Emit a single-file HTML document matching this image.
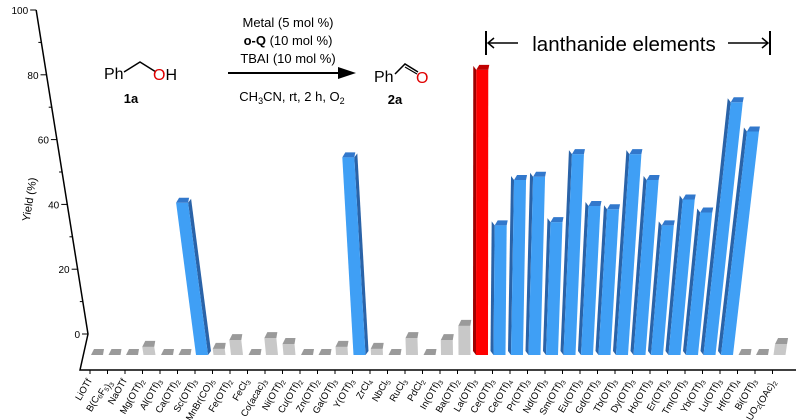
<!DOCTYPE html>
<html><head><meta charset="utf-8"><style>
body{margin:0;background:#fff;}
svg{display:block;font-family:"Liberation Sans",Arial,sans-serif;}
</style></head><body>
<svg id="chart" width="803" height="420" viewBox="0 0 803 420" xmlns="http://www.w3.org/2000/svg">
<g id="scheme">
  <text x="104" y="79" font-size="16">Ph</text>
  <polyline points="124,72 140,62 156,72" fill="none" stroke="#000" stroke-width="1.5"/>
  <text x="153" y="80" font-size="16"><tspan fill="#e00000">O</tspan>H</text>
  <text x="131" y="103" font-size="13" font-weight="bold" text-anchor="middle">1a</text>
  <text x="288" y="27" font-size="13" text-anchor="middle">Metal (5 mol %)</text>
  <text x="288" y="45" font-size="13" text-anchor="middle"><tspan font-weight="bold">o-Q</tspan> (10 mol %)</text>
  <text x="288" y="63" font-size="13" text-anchor="middle">TBAI (10 mol %)</text>
  <line x1="228" y1="73" x2="340" y2="73" stroke="#000" stroke-width="2"/>
  <polygon points="338,67 356,73 338,79" fill="#000"/>
  <text x="292" y="101" font-size="13" text-anchor="middle">CH<tspan font-size="9" dy="3">3</tspan><tspan dy="-3">CN, rt, 2 h, O</tspan><tspan font-size="9" dy="3">2</tspan></text>
  <text x="374" y="82" font-size="16">Ph</text>
  <polyline points="395,74 405,64 418,72" fill="none" stroke="#000" stroke-width="1.5"/>
  <line x1="405" y1="67" x2="417" y2="74" stroke="#000" stroke-width="1.2"/>
  <text x="416" y="83" font-size="16" fill="#e00000">O</text>
  <text x="395" y="104" font-size="13" font-weight="bold" text-anchor="middle">2a</text>
</g>
<g>
  <line x1="486" y1="31" x2="486" y2="55" stroke="#000" stroke-width="2"/>
  <line x1="770" y1="31" x2="770" y2="55" stroke="#000" stroke-width="2"/>
  <line x1="488" y1="43" x2="518" y2="43" stroke="#000" stroke-width="1.5"/>
  <polyline points="494,38 488,43 494,48" fill="none" stroke="#000" stroke-width="1.5"/>
  <line x1="728" y1="43" x2="768" y2="43" stroke="#000" stroke-width="1.5"/>
  <polyline points="762,38 768,43 762,48" fill="none" stroke="#000" stroke-width="1.5"/>
  <text x="624" y="51" font-size="20.5" text-anchor="middle">lanthanide elements</text>
</g>
<g id="axes"></g>
<g id="bars"></g>
<g id="xlabels"></g>
</svg>
<script>
const categories = ["LiOTf","B(C6F5)3","NaOTf","Mg(OTf)2","Al(OTf)3","Ca(OTf)2","Sc(OTf)3","MnBr(CO)5","Fe(OTf)2","FeCl3","Co(acac)3","Ni(OTf)2","Cu(OTf)2","Zn(OTf)2","Ga(OTf)3","Y(OTf)3","ZrCl4","NbCl5","RuCl3","PdCl2","In(OTf)3","Ba(OTf)2","La(OTf)3","Ce(OTf)3","Ce(OTf)4","Pr(OTf)3","Nd(OTf)3","Sm(OTf)3","Eu(OTf)3","Gd(OTf)3","Tb(OTf)3","Dy(OTf)3","Ho(OTf)3","Er(OTf)3","Tm(OTf)3","Yb(OTf)3","Lu(OTf)3","Hf(OTf)4","Bi(OTf)3","UO2(OAc)2"];
const yields = [0,0,0,2.5,0,0,47,1.9,4.6,0,5.2,3.4,0,0,2.5,61,1.9,0,5.2,0,4.6,9,88,40,54,55,41,62,46,45,62,54,40,48,44,78,69,0,0,3.4];
const colorGroup = ["g","g","g","g","g","g","b","g","g","g","g","g","g","g","g","b","g","g","g","g","g","g","r","b","b","b","b","b","b","b","b","b","b","b","b","b","b","g","g","g"];
const yTicks = [0,20,40,60,80,100];

const NS="http://www.w3.org/2000/svg";
const PX=3.24, BASE=355, X0=97, DX=17.5, W=12, VP=480, K=0.00047;
function xC(i){return X0+i*DX;}
function hOf(v){return v*PX;}
function axisY(v){return 334-v*PX;}
function axisX(v){return 88-(v*PX)*0.16;}
function mk(tag,attrs,parent){const e=document.createElementNS(NS,tag);for(const k in attrs)e.setAttribute(k,attrs[k]);parent.appendChild(e);return e;}

const axes=document.getElementById('axes');
const yAxis=mk('polyline',{points:`${axisX(100)},${axisY(100)} ${axisX(0)},${axisY(0)} 80,370 796,370`,fill:'none',stroke:'#000','stroke-width':1.5},axes);


for(let v=0;v<=100;v+=10){
  const x=axisX(v),y=axisY(v);
  const major=yTicks.includes(v);
  const t=mk('line',{x1:x,y1:y,x2:x-(major?6:3),y2:y,stroke:'#000','stroke-width':1},axes);
  
  
}
yTicks.forEach(v=>{
  const tx=mk('text',{x:axisX(v)-8,y:axisY(v)+4,'font-size':10,'text-anchor':'end'},axes);
  tx.textContent=v;
  
  
});
const yt=mk('text',{x:0,y:0,'font-size':11,'text-anchor':'middle',transform:'translate(33,200) rotate(-81)'},axes);
yt.textContent='Yield (%)';



const bars=document.getElementById('bars');
const pal={g:['#c8c8c8','#9a9a9a','#8a8a8a'],b:['#3f9ff5','#3278cc','#2a63a8'],r:['#ff0000','#c00000','#a00000']};
categories.forEach((c,i)=>{
  const v=yields[i],h=hOf(v),xc=xC(i),s=(xc-VP)*K;
  const bl=xc-W/2,br=xc+W/2,top=BASE-h,sh=s*h;
  const p=pal[colorGroup[i]];
  const g=mk('g',{},bars);
  
  
  const cap=colorGroup[i]==='g'?6:5;
  if(h>0){
    if(colorGroup[i]!=='g'){
      if(xc>VP) mk('polygon',{points:`${bl},${BASE} ${bl+sh},${top} ${bl+sh-3},${top-cap+1} ${bl-3},${BASE-cap+1}`,fill:p[2]},g);
      else mk('polygon',{points:`${br},${BASE} ${br+sh},${top} ${br+sh+3},${top-cap+1} ${br+3},${BASE-cap+1}`,fill:p[2]},g);
    }
    mk('polygon',{points:`${bl},${BASE} ${br},${BASE} ${br+sh},${top} ${bl+sh},${top}`,fill:p[0]},g);
  }
  mk('polygon',{points:`${bl+sh},${top} ${br+sh},${top} ${br+sh+1},${top-cap} ${bl+sh+3},${top-cap}`,fill:p[1]},g);
});

const xl=document.getElementById('xlabels');
categories.forEach((c,i)=>{
  const xc=xC(i)-7;
  const t=mk('line',{x1:xc,y1:370,x2:xc,y2:374,stroke:'#000','stroke-width':1},xl);
  
  
  const tx=mk('text',{x:0,y:0,'font-size':9.5,'text-anchor':'end',transform:`translate(${xc+2},${381}) rotate(-60)`},xl);
  c.split(/(\d+)/).forEach(part=>{
    if(part==='')return;
    const ts=document.createElementNS(NS,'tspan');
    if(/^\d+$/.test(part)){ts.setAttribute('font-size','6.5');ts.setAttribute('dy','2');}
    ts.textContent=part;
    tx.appendChild(ts);
    if(/^\d+$/.test(part)){const r=document.createElementNS(NS,'tspan');r.setAttribute('dy','-2');r.textContent='';tx.appendChild(r);}
  });
  
  
});
</script>
</body></html>
